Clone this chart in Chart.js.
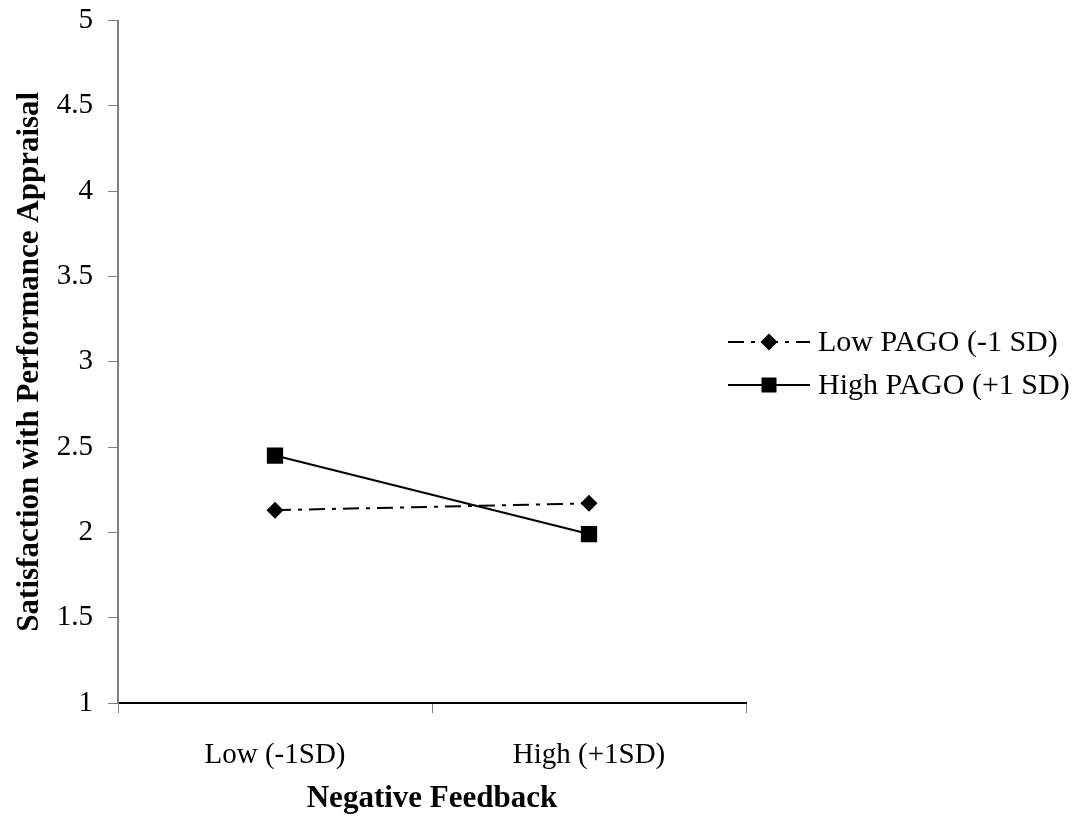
<!DOCTYPE html>
<html>
<head>
<meta charset="utf-8">
<script src="https://cdn.jsdelivr.net/npm/chart.js@4.4.1/dist/chart.umd.min.js"></script>
<style>
  html, body { margin: 0; padding: 0; background: #ffffff; }
  #wrap { width: 1073px; height: 823px; }
</style>
</head>
<body>
<div id="wrap"><canvas id="c" width="1073" height="823"></canvas></div>
<script>
const categories = ["Low (-1SD)", "High (+1SD)"];
const lowPago = [2.13, 2.17];
const highPago = [2.45, 1.99];
const seriesNames = ["Low PAGO (-1 SD)", "High PAGO (+1 SD)"];
const yTicks = [1, 1.5, 2, 2.5, 3, 3.5, 4, 4.5, 5];

const FONT = "'Liberation Serif', 'Times New Roman', serif";
const DASH = [16, 7, 4, 7];

const legendPlugin = {
  id: 'customLegend',
  afterDraw(chart) {
    const ctx = chart.ctx;
    const rows = [342, 385];
    const x0 = 728, x1 = 810, tx = 818;
    ctx.save();
    chart.data.datasets.forEach((ds, i) => {
      const y = rows[i];
      ctx.strokeStyle = '#000';
      ctx.lineWidth = 2;
      ctx.setLineDash(ds.borderDash || []);
      ctx.beginPath();
      ctx.moveTo(x0, y);
      ctx.lineTo(x1, y);
      ctx.stroke();
      ctx.setLineDash([]);
      ctx.fillStyle = '#000';
      const cx = (x0 + x1) / 2;
      ctx.beginPath();
      if (ds.pointStyle === 'rectRot') {
        const r = 8.5;
        ctx.moveTo(cx - r, y); ctx.lineTo(cx, y - r); ctx.lineTo(cx + r, y); ctx.lineTo(cx, y + r);
        ctx.closePath();
      } else {
        const s = 7.5;
        ctx.rect(cx - s, y - s, 2 * s, 2 * s);
      }
      ctx.fill();
      ctx.font = "30px " + FONT;
      ctx.textBaseline = 'middle';
      ctx.textAlign = 'left';
      ctx.fillText(ds.label, tx, y + 1);
    });
    ctx.restore();
  }
};

new Chart(document.getElementById('c'), {
  type: 'line',
  data: {
    labels: categories,
    datasets: [
      {
        label: seriesNames[0],
        data: lowPago,
        borderColor: '#000',
        backgroundColor: '#000',
        borderWidth: 2,
        borderDash: DASH,
        pointStyle: 'rectRot',
        pointRadius: 8.5,
        pointHoverRadius: 8.5,
        pointBorderWidth: 0,
        tension: 0
      },
      {
        label: seriesNames[1],
        data: highPago,
        borderColor: '#000',
        backgroundColor: '#000',
        borderWidth: 2,
        pointStyle: 'rect',
        pointRadius: 11.5,
        pointHoverRadius: 11.5,
        pointBorderWidth: 0,
        tension: 0
      }
    ]
  },
  options: {
    responsive: false,
    animation: false,
    devicePixelRatio: 1,
    layout: { padding: { top: 20.5, right: 327, left: 0, bottom: 0 } },
    plugins: {
      legend: { display: false },
      tooltip: { enabled: false }
    },
    scales: {
      x: {
        type: 'category',
        offset: true,
        afterFit(s) { s.height = 120; },
        grid: {
          offset: true,
          drawOnChartArea: false,
          drawTicks: true,
          tickLength: 10,
          color: '#808080',
          lineWidth: 1
        },
        border: { display: true, color: '#000', width: 2 },
        ticks: {
          color: '#000',
          font: { family: FONT, size: 29 },
          padding: 25,
          maxRotation: 0
        },
        title: {
          display: true,
          text: 'Negative Feedback',
          color: '#000',
          font: { family: FONT, size: 31, weight: 'bold' },
          padding: { top: 0, bottom: 5 }
        }
      },
      y: {
        min: 1,
        max: 5,
        afterFit(s) { s.width = 118; },
        afterBuildTicks(s) { s.ticks = yTicks.map(v => ({ value: v })); },
        grid: {
          drawOnChartArea: false,
          drawTicks: true,
          tickLength: 10,
          color: '#808080',
          lineWidth: 1
        },
        border: { display: true, color: '#808080', width: 2 },
        ticks: {
          color: '#000',
          font: { family: FONT, size: 29, lineHeight: 0.2 },
          padding: 15,
          callback: v => String(v)
        },
        title: {
          display: true,
          text: 'Satisfaction with Performance Appraisal',
          color: '#000',
          font: { family: FONT, size: 31, weight: 'bold' },
          padding: { top: 11, bottom: 0 }
        }
      }
    }
  },
  plugins: [legendPlugin]
});
</script>
</body>
</html>
